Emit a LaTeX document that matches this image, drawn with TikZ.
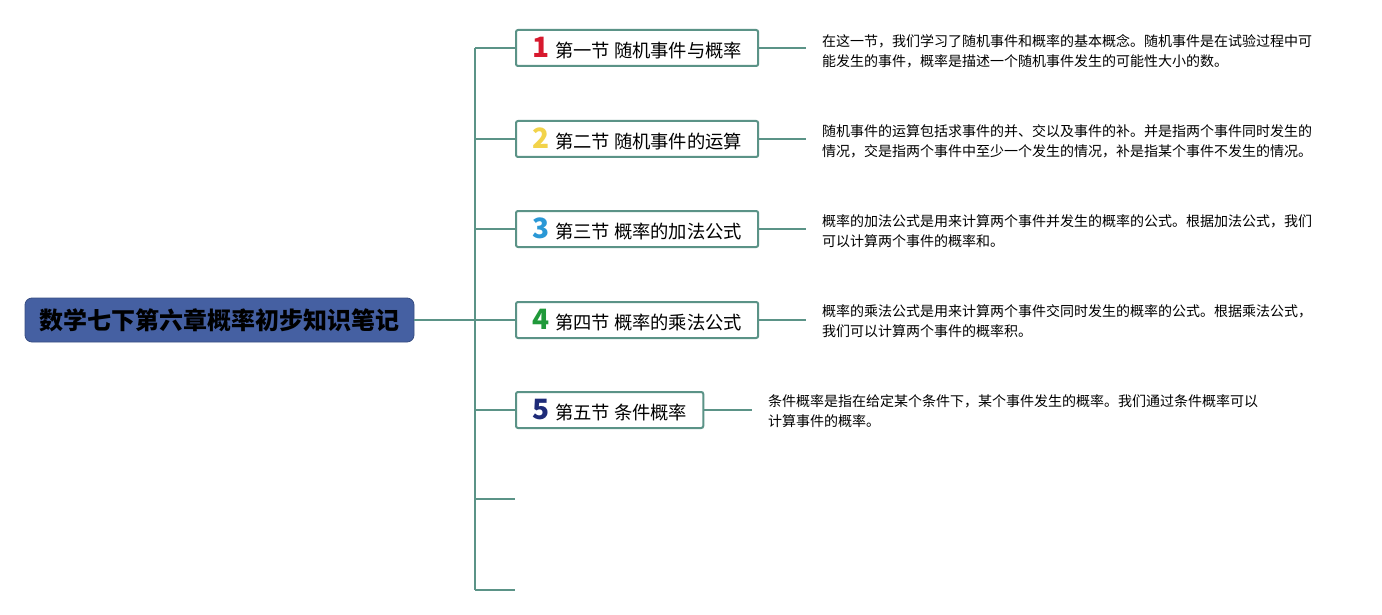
\documentclass[tikz,border=0pt]{standalone}
\usepackage{fontspec}
\setmainfont{Noto Sans CJK SC}
\usepackage{tikz}
\usepackage{xcolor}
\usetikzlibrary{positioning, calc}
\definecolor{Branch}{HTML}{5B9387}
\definecolor{RootBlue}{HTML}{4560A2}
\definecolor{NumRed}{HTML}{D7192E}
\definecolor{NumYellow}{HTML}{F2D34A}
\definecolor{NumBlue}{HTML}{2A98D6}
\definecolor{NumGreen}{HTML}{20993A}
\definecolor{NumNavy}{HTML}{1E2B78}
\tikzset{
    link/.style={draw=Branch, line width=2pt},
    rootbox/.style={rectangle, rounded corners=7pt, fill=RootBlue, draw=RootBlue!80!black, line width=0.8pt,
        minimum width=389pt, minimum height=44pt, font=\fontsize{24}{28}\selectfont\bfseries},
    secbox/.style={rectangle, rounded corners=2pt, draw=Branch, line width=2pt, fill=white,
        minimum height=36pt, inner xsep=16pt, font=\fontsize{18.3}{20}\selectfont},
    note/.style={anchor=west, inner xsep=16pt, align=left, font=\fontsize{14}{20}\selectfont},
}
\newcommand{\secnum}[2]{{\fontsize{28}{28}\selectfont\bfseries\color{#1}#2}\hspace{6pt}}

\begin{document}
\begin{tikzpicture}[x=1pt, y=-1pt]
    \useasboundingbox (0,0) rectangle (1382,615);

    % Root
    \node[rootbox] (root) at (219.5,320) {数学七下第六章概率初步知识笔记};

    % Sections
    \node[secbox, anchor=west] (s1) at (515,48)  {\secnum{NumRed}{1}第一节 随机事件与概率};
    \node[secbox, anchor=west] (s2) at (515,139) {\secnum{NumYellow}{2}第二节 随机事件的运算};
    \node[secbox, anchor=west] (s3) at (515,229) {\secnum{NumBlue}{3}第三节 概率的加法公式};
    \node[secbox, anchor=west] (s4) at (515,320) {\secnum{NumGreen}{4}第四节 概率的乘法公式};
    \node[secbox, anchor=west] (s5) at (515,410) {\secnum{NumNavy}{5}第五节 条件概率};
    \coordinate (e6) at (515,499);
    \coordinate (e7) at (515,590);
    \coordinate (trunk) at (475,320);

    % Notes
    \node[note] (d1) at (806,51) {在这一节，我们学习了随机事件和概率的基本概念。随机事件是在试验过程中可\\能发生的事件，概率是描述一个随机事件发生的可能性大小的数。};
    \node[note] (d2) at (806,141) {随机事件的运算包括求事件的并、交以及事件的补。并是指两个事件同时发生的\\情况，交是指两个事件中至少一个发生的情况，补是指某个事件不发生的情况。};
    \node[note] (d3) at (806,231) {概率的加法公式是用来计算两个事件并发生的概率的公式。根据加法公式，我们\\可以计算两个事件的概率和。};
    \node[note] (d4) at (806,321) {概率的乘法公式是用来计算两个事件交同时发生的概率的公式。根据乘法公式，\\我们可以计算两个事件的概率积。};
    \node[note] (d5) at (752,411) {条件概率是指在给定某个条件下，某个事件发生的概率。我们通过条件概率可以\\计算事件的概率。};

    % Connectors
    \draw[link] (root.east) -- (trunk);
    \draw[link] (trunk |- s1) -- (trunk |- e7);
    \foreach \s in {s1,s2,s3,s4,s5,e6,e7}
        \draw[link] (trunk |- \s) -- (\s);
    \foreach \i in {1,...,5}
        \draw[link] (s\i.east) -- (s\i.east -| d\i.west);
\end{tikzpicture}
\end{document}
